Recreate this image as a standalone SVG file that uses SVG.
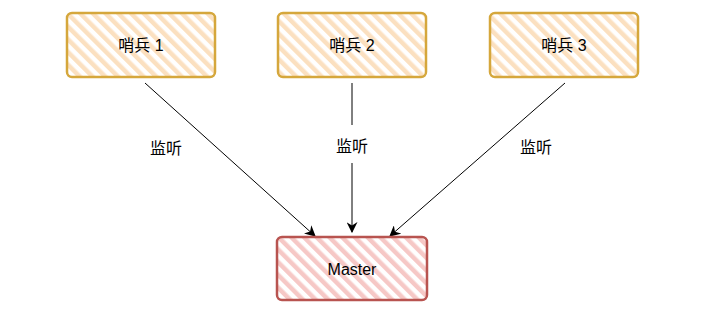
<svg xmlns="http://www.w3.org/2000/svg" width="712" height="309" viewBox="0 0 712 309">
<style>
.lbl{font-family:"Liberation Sans","Noto Sans CJK SC",sans-serif;font-size:16px;fill:#000;text-anchor:middle;dominant-baseline:central}
.s{fill:url(#hy);stroke:#d5a73c;stroke-width:2.5}
.m{fill:url(#hr);stroke:#b85450;stroke-width:2.5}
.c{stroke:#000;stroke-width:1;fill:none;marker-end:url(#ah)}
</style>
<defs>
<pattern id="hy" patternUnits="userSpaceOnUse" width="9" height="9" patternTransform="rotate(-45)">
<rect width="9" height="9" fill="#fff"/>
<rect width="4.5" height="9" fill="#fbe0c0"/>
</pattern>
<pattern id="hr" patternUnits="userSpaceOnUse" width="9" height="9" patternTransform="rotate(-45)">
<rect width="9" height="9" fill="#fff"/>
<rect width="4.5" height="9" fill="#f6c8c6"/>
</pattern>
<marker id="ah" viewBox="0 0 10 10" refX="9" refY="5" markerWidth="11" markerHeight="11" markerUnits="userSpaceOnUse" orient="auto">
<path d="M0,0 L10,5 L0,10 L3,5 Z" fill="#000"/>
</marker>
</defs>
<g id="connectors">
<line class="c" x1="145" y1="83" x2="315" y2="236"/>
<line x1="352" y1="83" x2="352" y2="125" stroke="#000" stroke-width="1"/>
<line class="c" x1="352" y1="163" x2="352" y2="232"/>
<line class="c" x1="565" y1="83" x2="390" y2="236"/>
<text class="lbl" x="166" y="148">监听</text>
<text class="lbl" x="352" y="146">监听</text>
<text class="lbl" x="536" y="147">监听</text>
</g>
<g id="sentinel1">
<rect class="s" x="67" y="13" width="148" height="64" rx="5"/>
<text class="lbl" x="141" y="45">哨兵 1</text>
</g>
<g id="sentinel2">
<rect class="s" x="278" y="13" width="148" height="64" rx="5"/>
<text class="lbl" x="352" y="45">哨兵 2</text>
</g>
<g id="sentinel3">
<rect class="s" x="490" y="13" width="148" height="64" rx="5"/>
<text class="lbl" x="564" y="45">哨兵 3</text>
</g>
<g id="master">
<rect class="m" x="277" y="237" width="150" height="63" rx="5"/>
<text class="lbl" x="352" y="269">Master</text>
</g>
</svg>
